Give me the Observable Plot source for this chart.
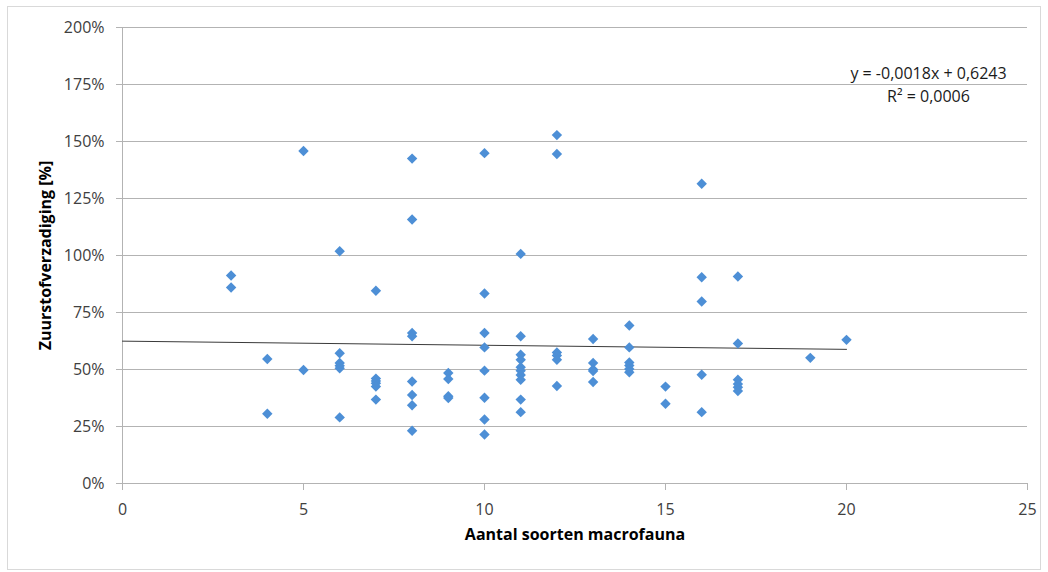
<!DOCTYPE html>
<html><head><meta charset="utf-8">
<script src="https://cdn.jsdelivr.net/npm/d3@7"></script>
<script src="https://cdn.jsdelivr.net/npm/@observablehq/plot@0.6"></script>
<style>
body{margin:0;background:#fff;}
#frame{position:absolute;left:7px;top:6px;width:1034px;height:564px;border:1px solid #d9d9d9;box-sizing:border-box;}
#chart{position:absolute;left:0;top:0;}
</style></head><body><div id="frame"></div><div id="chart"></div>
<script>
// Aantal soorten macrofauna (x) and zuurstofverzadiging (fraction) per x value
const soorten = [3, 4, 5, 6, 7, 8, 9, 10, 11, 12, 13, 14, 15, 16, 17, 19, 20];
const verzadiging = [
  [0.912, 0.86],
  [0.546, 0.306],
  [1.458, 0.498],
  [1.019, 0.571, 0.529, 0.516, 0.505, 0.29],
  [0.845, 0.46, 0.45, 0.44, 0.425, 0.368],
  [1.425, 1.158, 0.66, 0.646, 0.447, 0.388, 0.343, 0.231],
  [0.485, 0.458, 0.383, 0.375],
  [1.449, 0.833, 0.66, 0.597, 0.495, 0.376, 0.281, 0.215],
  [1.007, 0.646, 0.565, 0.543, 0.51, 0.495, 0.476, 0.455, 0.368, 0.313],
  [1.528, 1.445, 0.575, 0.561, 0.543, 0.428],
  [0.634, 0.529, 0.5, 0.493, 0.445],
  [0.693, 0.597, 0.531, 0.517, 0.502, 0.488],
  [0.425, 0.35],
  [1.315, 0.905, 0.798, 0.477, 0.313],
  [0.908, 0.614, 0.455, 0.436, 0.422, 0.406],
  [0.551],
  [0.63]
];
const xTicks = [0, 5, 10, 15, 20, 25];
const yTicks = [0, 0.25, 0.5, 0.75, 1, 1.25, 1.5, 1.75, 2];
const trendSlope = -0.0018;
const trendIntercept = 0.6243;
const trendRange = [0, 20];
const equationLines = ["y = -0,0018x + 0,6243", "R² = 0,0006"];
const xTitle = "Aantal soorten macrofauna";
const yTitle = "Zuurstofverzadiging [%]";

const points = soorten.flatMap((n, i) => verzadiging[i].map(v => ({n, v})));
const trend = trendRange.map(x => ({x, y: trendIntercept + trendSlope * x}));

const chart = Plot.plot({
  width: 1048, height: 572,
  marginLeft: 122, marginRight: 21, marginTop: 27, marginBottom: 89,
  style: {fontFamily: "'Open Sans', sans-serif", fontSize: "16px", color: "#404040", background: "transparent", overflow: "visible"},
  x: {domain: [0, 25]},
  y: {domain: [0, 2]},
  marks: [
    Plot.gridY(yTicks, {stroke: "#b3b3b3", strokeOpacity: 1}),
    Plot.ruleX([0], {stroke: "#b3b3b3"}),
    Plot.axisX({ticks: xTicks, tickSize: 7, tickPadding: 13, stroke: "#b3b3b3", fill: "#404040", label: null, fontSize: 16}),
    Plot.axisY({ticks: yTicks, tickSize: 6, tickPadding: 12, tickFormat: d3.format(".0%"), stroke: "#b3b3b3", fill: "#404040", label: null, fontSize: 16}),
    Plot.line(trend, {x: "x", y: "y", stroke: "#3a3a3a", strokeWidth: 1}),
    Plot.dot(points, {x: "n", y: "v", symbol: "diamond2", fill: "#4d8fd6", stroke: "none", r: 4.7}),
    Plot.text([equationLines[0]], {text: d => d, frameAnchor: "top-right", dx: -99, dy: 40, textAnchor: "middle", fill: "#1a1a1a", fontSize: 16}),
    Plot.text([equationLines[1]], {text: d => d, frameAnchor: "top-right", dx: -99, dy: 63, textAnchor: "middle", fill: "#1a1a1a", fontSize: 16}),
    Plot.text([xTitle], {text: d => d, frameAnchor: "bottom", dy: 56, textAnchor: "middle", fontWeight: "bold", fill: "#000", fontSize: 16}),
    Plot.text([yTitle], {text: d => d, frameAnchor: "left", rotate: -90, dx: -77, textAnchor: "middle", fontWeight: "bold", fill: "#000", fontSize: 16})
  ]
});
document.getElementById("chart").appendChild(chart);
</script>
</body></html>
